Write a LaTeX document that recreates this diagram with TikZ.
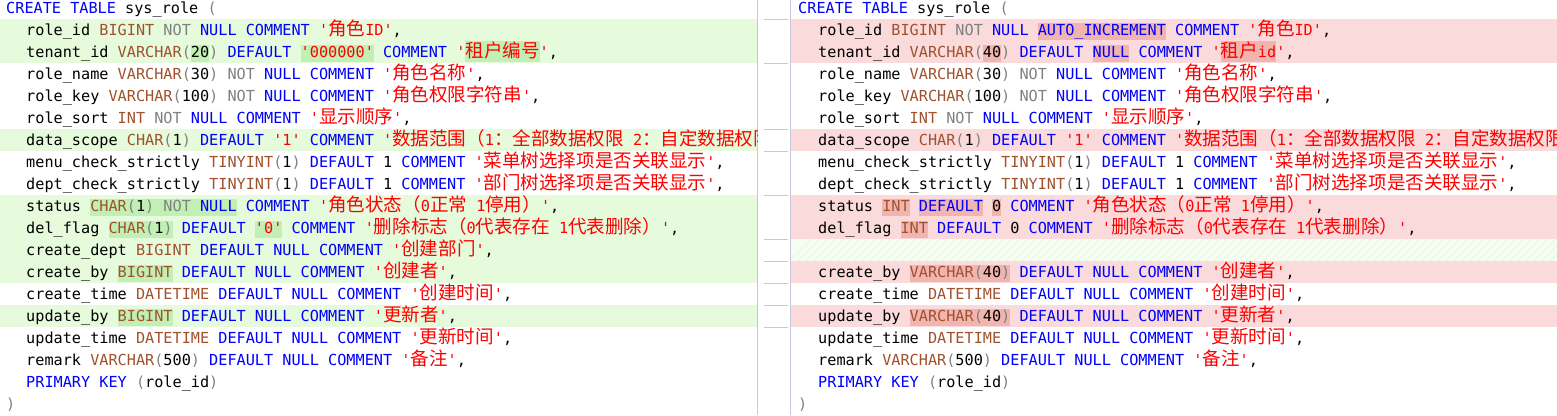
\documentclass[tikz,border=0pt]{standalone}
\usepackage{fontspec}
\setmonofont{DejaVu Sans Mono}
\newfontfamily\cjk{Noto Sans CJK SC}[Scale=1.22]
\definecolor{kwblue}{HTML}{0000FF}
\definecolor{tybrown}{HTML}{A0522D}
\definecolor{nogray}{HTML}{808080}
\definecolor{strred}{HTML}{FF0000}
\definecolor{addrow}{HTML}{E6FADC}
\definecolor{addtok}{HTML}{C2F0B4}
\definecolor{delrow}{HTML}{FADADA}
\definecolor{deltok}{HTML}{F2B4AE}
\definecolor{gutter}{HTML}{C8C8D8}
\newcommand\kw[1]{\textcolor{kwblue}{#1}}
\newcommand\ty[1]{\textcolor{tybrown}{#1}}
\newcommand\gr[1]{\textcolor{nogray}{#1}}
\newcommand\st[1]{\textcolor{strred}{#1}}
\newcommand\zh[1]{{\cjk #1}}
\newcommand\hl[2]{{\setlength\fboxsep{0pt}\colorbox{#1}{\rule[-5pt]{0pt}{17pt}#2}}}
\begin{document}
\begin{tikzpicture}[x=1pt, y=-1pt, font=\ttfamily\fontsize{15.2}{16}\selectfont]
    \tikzset{codeline/.style={anchor=base west, inner sep=0pt}}
    \tikzset{rowband/.style={fill=#1, draw=none}}
    \useasboundingbox (0,0) rectangle (1557,415);

    % ROW BANDS
    \foreach \i in {1,2,6,9,10,11,12,14}
        \fill[rowband=addrow] (0,22*\i-3) rectangle (757,22*\i+19);
    \foreach \i in {1,2,6,9,10,12,14}
        \fill[rowband=delrow] (790,22*\i-3) rectangle (1557,22*\i+19);
    \fill[rowband=addrow!40] (790,239) rectangle (1557,261);
    \begin{scope}
    \clip (790,239) rectangle (1557,261);
    \foreach \k in {0,8,...,800}
        \draw[addrow!90!black!60, very thin] (790+\k,261) -- (812+\k,239);
    \end{scope}

    % GUTTER
    \draw[gutter] (757,0) -- (757,415);
    \draw[gutter] (790,0) -- (790,415);
    \foreach \i in {1,3,6,7,9,11,12,13,14,15}
        \draw[gutter] (764,22*\i-3) -- (788,22*\i-3);

    % LEFT PANE
    \begin{scope}
    \clip (0,0) rectangle (757,415);
    \node[codeline] (l0) at (6,13) {\kw{CREATE TABLE} sys\_role \gr{(}};
    \node[codeline] (l1) at (26,35) {role\_id \ty{BIGINT} \gr{NOT} \kw{NULL COMMENT} \st{'\zh{角色}ID'},};
    \node[codeline] (l2) at (26,57) {tenant\_id \ty{VARCHAR}\gr{(}\hl{addtok}{20}\gr{)} \kw{DEFAULT} \hl{addtok}{\st{'000000'}} \kw{COMMENT} \st{'\hl{addtok}{\zh{租户编号}}'},};
    \node[codeline] (l3) at (26,79) {role\_name \ty{VARCHAR}\gr{(}30\gr{)} \gr{NOT} \kw{NULL COMMENT} \st{'\zh{角色名称}'},};
    \node[codeline] (l4) at (26,101) {role\_key \ty{VARCHAR}\gr{(}100\gr{)} \gr{NOT} \kw{NULL COMMENT} \st{'\zh{角色权限字符串}'},};
    \node[codeline] (l5) at (26,123) {role\_sort \ty{INT} \gr{NOT} \kw{NULL COMMENT} \st{'\zh{显示顺序}'},};
    \node[codeline] (l6) at (26,145) {data\_scope \ty{CHAR}\gr{(}1\gr{)} \kw{DEFAULT} \st{'1'} \kw{COMMENT} \st{'\zh{数据范围（}1\zh{：全部数据权限} 2\zh{：自定数据权限}'},};
    \node[codeline] (l7) at (26,167) {menu\_check\_strictly \ty{TINYINT}\gr{(}1\gr{)} \kw{DEFAULT} 1 \kw{COMMENT} \st{'\zh{菜单树选择项是否关联显示}'},};
    \node[codeline] (l8) at (26,189) {dept\_check\_strictly \ty{TINYINT}\gr{(}1\gr{)} \kw{DEFAULT} 1 \kw{COMMENT} \st{'\zh{部门树选择项是否关联显示}'},};
    \node[codeline] (l9) at (26,211) {status \hl{addtok}{\ty{CHAR}\gr{(}1\gr{)} \gr{NOT} \kw{NULL}} \kw{COMMENT} \st{'\zh{角色状态（}0\zh{正常} 1\zh{停用）}'},};
    \node[codeline] (l10) at (26,233) {del\_flag \hl{addtok}{\ty{CHAR}\gr{(}1\gr{)}} \kw{DEFAULT} \hl{addtok}{\st{'0'}} \kw{COMMENT} \st{'\zh{删除标志（}0\zh{代表存在} 1\zh{代表删除）}'},};
    \node[codeline] (l11) at (26,255) {create\_dept \ty{BIGINT} \kw{DEFAULT NULL COMMENT} \st{'\zh{创建部门}'},};
    \node[codeline] (l12) at (26,277) {create\_by \hl{addtok}{\ty{BIGINT}} \kw{DEFAULT NULL COMMENT} \st{'\zh{创建者}'},};
    \node[codeline] (l13) at (26,299) {create\_time \ty{DATETIME} \kw{DEFAULT NULL COMMENT} \st{'\zh{创建时间}'},};
    \node[codeline] (l14) at (26,321) {update\_by \hl{addtok}{\ty{BIGINT}} \kw{DEFAULT NULL COMMENT} \st{'\zh{更新者}'},};
    \node[codeline] (l15) at (26,343) {update\_time \ty{DATETIME} \kw{DEFAULT NULL COMMENT} \st{'\zh{更新时间}'},};
    \node[codeline] (l16) at (26,365) {remark \ty{VARCHAR}\gr{(}500\gr{)} \kw{DEFAULT NULL COMMENT} \st{'\zh{备注}'},};
    \node[codeline] (l17) at (26,387) {\kw{PRIMARY KEY} \gr{(}role\_id\gr{)}};
    \node[codeline] (l18) at (6,409) {\gr{)}};
    \end{scope}

    % RIGHT PANE
    \begin{scope}
    \clip (790,0) rectangle (1557,415);
    \node[codeline] (r0) at (798,13) {\kw{CREATE TABLE} sys\_role \gr{(}};
    \node[codeline] (r1) at (818,35) {role\_id \ty{BIGINT} \gr{NOT} \kw{NULL} \hl{deltok}{\kw{AUTO\_INCREMENT}} \kw{COMMENT} \st{'\zh{角色}ID'},};
    \node[codeline] (r2) at (818,57) {tenant\_id \ty{VARCHAR}\gr{(}\hl{deltok}{40}\gr{)} \kw{DEFAULT} \hl{deltok}{\kw{NULL}} \kw{COMMENT} \st{'\hl{deltok}{\zh{租户}id}'},};
    \node[codeline] (r3) at (818,79) {role\_name \ty{VARCHAR}\gr{(}30\gr{)} \gr{NOT} \kw{NULL COMMENT} \st{'\zh{角色名称}'},};
    \node[codeline] (r4) at (818,101) {role\_key \ty{VARCHAR}\gr{(}100\gr{)} \gr{NOT} \kw{NULL COMMENT} \st{'\zh{角色权限字符串}'},};
    \node[codeline] (r5) at (818,123) {role\_sort \ty{INT} \gr{NOT} \kw{NULL COMMENT} \st{'\zh{显示顺序}'},};
    \node[codeline] (r6) at (818,145) {data\_scope \ty{CHAR}\gr{(}1\gr{)} \kw{DEFAULT} \st{'1'} \kw{COMMENT} \st{'\zh{数据范围（}1\zh{：全部数据权限} 2\zh{：自定数据权限}'},};
    \node[codeline] (r7) at (818,167) {menu\_check\_strictly \ty{TINYINT}\gr{(}1\gr{)} \kw{DEFAULT} 1 \kw{COMMENT} \st{'\zh{菜单树选择项是否关联显示}'},};
    \node[codeline] (r8) at (818,189) {dept\_check\_strictly \ty{TINYINT}\gr{(}1\gr{)} \kw{DEFAULT} 1 \kw{COMMENT} \st{'\zh{部门树选择项是否关联显示}'},};
    \node[codeline] (r9) at (818,211) {status \hl{deltok}{\ty{INT}} \hl{deltok}{\kw{DEFAULT}} \hl{deltok}{0} \kw{COMMENT} \st{'\zh{角色状态（}0\zh{正常} 1\zh{停用）}'},};
    \node[codeline] (r10) at (818,233) {del\_flag \hl{deltok}{\ty{INT}} \kw{DEFAULT} 0 \kw{COMMENT} \st{'\zh{删除标志（}0\zh{代表存在} 1\zh{代表删除）}'},};
    \node[codeline] (r12) at (818,277) {create\_by \hl{deltok}{\ty{VARCHAR}\gr{(}40\gr{)}} \kw{DEFAULT NULL COMMENT} \st{'\zh{创建者}'},};
    \node[codeline] (r13) at (818,299) {create\_time \ty{DATETIME} \kw{DEFAULT NULL COMMENT} \st{'\zh{创建时间}'},};
    \node[codeline] (r14) at (818,321) {update\_by \hl{deltok}{\ty{VARCHAR}\gr{(}40\gr{)}} \kw{DEFAULT NULL COMMENT} \st{'\zh{更新者}'},};
    \node[codeline] (r15) at (818,343) {update\_time \ty{DATETIME} \kw{DEFAULT NULL COMMENT} \st{'\zh{更新时间}'},};
    \node[codeline] (r16) at (818,365) {remark \ty{VARCHAR}\gr{(}500\gr{)} \kw{DEFAULT NULL COMMENT} \st{'\zh{备注}'},};
    \node[codeline] (r17) at (818,387) {\kw{PRIMARY KEY} \gr{(}role\_id\gr{)}};
    \node[codeline] (r18) at (798,409) {\gr{)}};
    \end{scope}
\end{tikzpicture}
\end{document}
